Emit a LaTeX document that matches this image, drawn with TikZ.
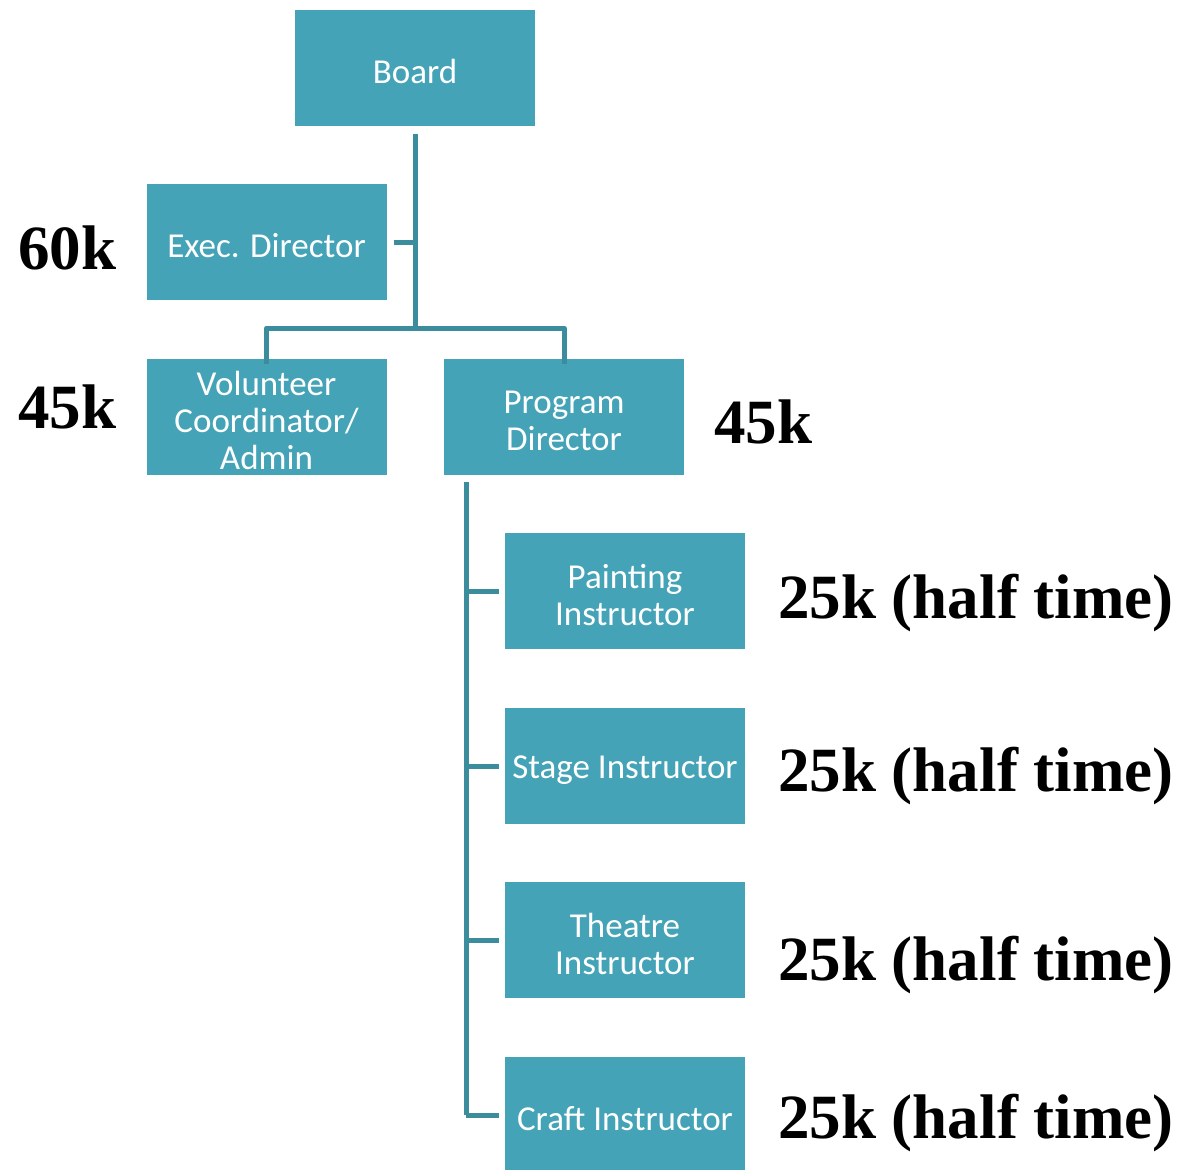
\documentclass[tikz,border=0pt]{standalone}
\usepackage{fontspec}
\setmainfont{Liberation Serif}
\newfontfamily\boxfont{Carlito}
\definecolor{boxfill}{HTML}{45A3B8}
\definecolor{linkcol}{HTML}{3B8D9E}
\begin{document}
\begin{tikzpicture}[x=1pt,y=-1pt,
  boxtext/.style={text=white, align=center, inner sep=0pt, yshift=-4pt,
    font=\boxfont\fontsize{35}{37}\selectfont},
  role/.style={fill=boxfill, draw=none, minimum width=240pt, minimum height=116pt,
    inner sep=0pt, label={[boxtext]center:{#1}}},
  link/.style={draw=linkcol, line width=5pt},
  pay/.style={anchor=base west, inner sep=0pt, font=\bfseries\fontsize{63}{63}\selectfont}]
\useasboundingbox (0,0) rectangle (1189,1170);
\clip (0,0) rectangle (1189,1170);

% role boxes
\node[role={Board}] (board) at (415,67.5) {};
\node[role={Exec. Director}] (exec) at (266.5,242) {};
\node[role={Volunteer\\Coordinator/\\Admin}] (vol) at (266.5,416.5) {};
\node[role={Program\\Director}] (prog) at (564,416.5) {};
\node[role={Painting\\Instructor}] (paint) at (625,591) {};
\node[role={Stage Instructor}] (stage) at (625,766) {};
\node[role={Theatre\\Instructor}] (theatre) at (625,940) {};
\node[role={Craft Instructor}] (craft) at (625,1115) {};

% salary labels
\node[pay] (p60) at (18,269) {60k};
\node[pay] (p45a) at (18,428) {45k};
\node[pay] (p45b) at (714,443) {45k};
\node[pay] (p25a) at (778,618) {25k (half time)};
\node[pay] (p25b) at (778,791) {25k (half time)};
\node[pay] (p25c) at (778,980) {25k (half time)};
\node[pay] (p25d) at (778,1138) {25k (half time)};

% board branch
\coordinate (split) at (415,328);
\draw[link] ([yshift=-8pt]board.south) -- (split);
\draw[link] ([xshift=7pt]exec.east) -- (exec.east -| split);
\draw[link, line join=round] ([yshift=-6pt]vol.north) |- (split) -| ([yshift=-6pt]prog.north);

% program director branch
\coordinate (spine) at (466,0);
\draw[link] (spine |- 0,482) -- (spine |- craft);
\foreach \n in {paint,stage,theatre,craft}
  \draw[link] (spine |- \n) -- ([xshift=-6pt]\n.west);
\end{tikzpicture}
\end{document}
